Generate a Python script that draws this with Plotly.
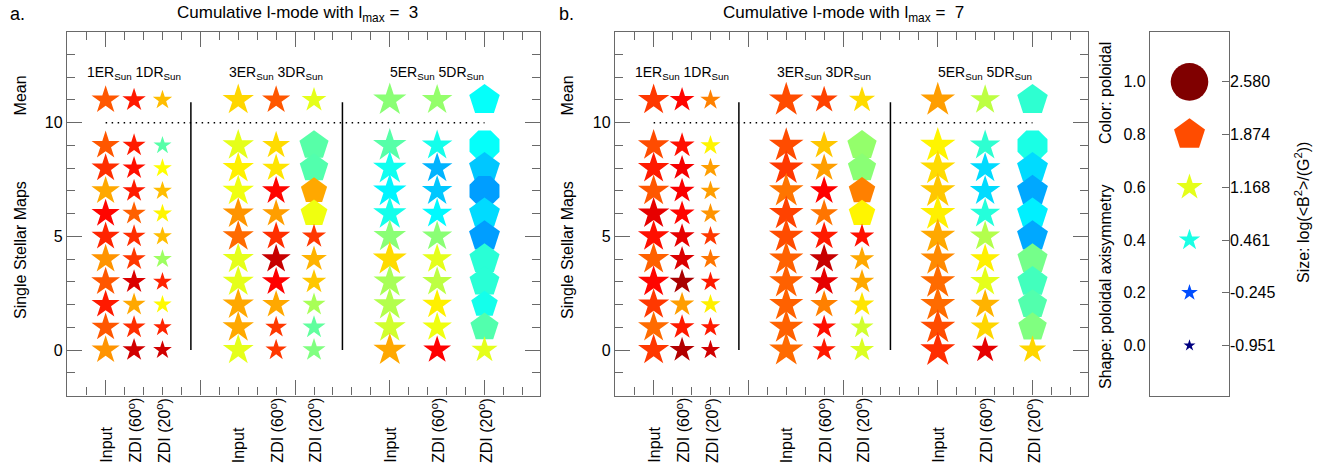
import plotly.graph_objects as go

# ---------------- data ----------------
COL_X = [0, 1.5, 3, 7, 9, 11, 15, 17.5, 20]
COL_LABELS = ["Input", "ZDI (60<sup>o</sup>)", "ZDI (20<sup>o</sup>)"] * 3
GROUP_X = [1.5, 9, 17.5]
GROUP_LABELS = ["1ER<sub>Sun</sub> 1DR<sub>Sun</sub>",
                "3ER<sub>Sun</sub> 3DR<sub>Sun</sub>",
                "5ER<sub>Sun</sub> 5DR<sub>Sun</sub>"]
# row order: Mean (plotted at 11), then single maps 9 ... 0
ROW_Y = [11, 9, 8, 7, 6, 5, 4, 3, 2, 1, 0]

LOG_MIN, LOG_MAX = -0.951, 2.580
LEGEND_FRAC = [0.0, 0.2, 0.4, 0.6, 0.8, 1.0]
LEGEND_FRAC_LABELS = ["0.0", "0.2", "0.4", "0.6", "0.8", "1.0"]
LEGEND_SIZE_LABELS = ["-0.951", "-0.245", "0.461", "1.168", "1.874", "2.580"]

# panel a (lmax = 3): poloidal fraction (colour)
A_POL = [
    [0.79, 0.79, 0.83, 0.71, 0.87, 0.84, 0.73, 0.79, 0.85, 0.79, 0.73],
    [0.85, 0.85, 0.86, 0.85, 0.78, 0.83, 0.82, 0.91, 0.71, 0.83, 0.92],
    [0.69, 0.46, 0.625, 0.69, 0.635, 0.69, 0.53, 0.84, 0.63, 0.84, 0.92],
    [0.665, 0.60, 0.64, 0.61, 0.73, 0.77, 0.60, 0.60, 0.71, 0.71, 0.60],
    [0.79, 0.66, 0.65, 0.87, 0.72, 0.83, 0.93, 0.875, 0.71, 0.82, 0.82],
    [0.60, 0.46, 0.455, 0.71, 0.61, 0.82, 0.70, 0.68, 0.54, 0.47, 0.50],
    [0.51, 0.46, 0.39, 0.365, 0.395, 0.51, 0.66, 0.54, 0.55, 0.58, 0.71],
    [0.52, 0.395, 0.30, 0.32, 0.37, 0.51, 0.60, 0.56, 0.64, 0.61, 0.875],
    [0.38, 0.38, 0.32, 0.28, 0.34, 0.28, 0.415, 0.415, 0.395, 0.455, 0.60],
]
# panel a: poloidal axisymmetry (shape)
A_AXI = [
    [0.35, 0.35, 0.35, 0.40, 0.35, 0.35, 0.45, 0.45, 0.35, 0.35, 0.40],
    [0.20, 0.20, 0.20, 0.20, 0.25, 0.25, 0.25, 0.40, 0.25, 0.20, 0.20],
    [0.25, 0.20, 0.20, 0.30, 0.30, 0.30, 0.25, 0.20, 0.20, 0.15, 0.15],
    [0.45, 0.45, 0.45, 0.50, 0.40, 0.40, 0.45, 0.45, 0.45, 0.45, 0.45],
    [0.40, 0.40, 0.45, 0.60, 0.45, 0.45, 0.60, 0.50, 0.45, 0.30, 0.30],
    [0.55, 0.80, 0.80, 0.82, 0.82, 0.50, 0.45, 0.40, 0.25, 0.25, 0.25],
    [0.50, 0.65, 0.65, 0.65, 0.60, 0.50, 0.40, 0.50, 0.50, 0.50, 0.35],
    [0.50, 0.60, 0.65, 0.60, 0.55, 0.50, 0.45, 0.50, 0.45, 0.50, 0.40],
    [0.80, 0.93, 0.88, 0.90, 0.88, 0.88, 0.85, 0.85, 0.82, 0.80, 0.55],
]
# panel a: log(<B^2>) (size)
A_LOG = [
    [1.46, 1.46, 1.46, 1.50, 1.46, 1.46, 1.60, 1.55, 1.46, 1.46, 1.46],
    [0.75, 0.70, 0.70, 0.70, 0.75, 0.70, 0.75, 0.80, 0.70, 0.70, 0.70],
    [0.15, -0.05, 0.05, 0.07, 0.10, 0.07, 0.05, 0.07, 0.00, 0.00, 0.05],
    [1.93, 1.93, 1.93, 1.93, 1.90, 1.90, 1.90, 1.90, 1.93, 1.93, 1.85],
    [1.46, 1.40, 1.40, 1.46, 1.40, 1.46, 1.60, 1.50, 1.40, 0.50, 0.45],
    [0.95, 1.60, 1.50, 1.16, 1.25, 0.85, 1.10, 0.90, 0.70, 0.70, 0.70],
    [2.20, 2.23, 2.23, 2.23, 2.20, 2.10, 2.30, 2.10, 2.10, 2.00, 2.15],
    [1.80, 1.80, 1.80, 1.80, 1.75, 1.75, 1.70, 1.70, 1.70, 1.65, 1.40],
    [1.80, 1.85, 1.85, 1.85, 1.85, 1.85, 1.75, 1.70, 1.20, 1.45, 1.15],
]

# panel b (lmax = 7)
B_POL = [
    [0.82, 0.80, 0.85, 0.79, 0.90, 0.86, 0.78, 0.87, 0.82, 0.77, 0.82],
    [0.87, 0.86, 0.885, 0.88, 0.87, 0.90, 0.91, 0.96, 0.72, 0.85, 0.95],
    [0.75, 0.635, 0.72, 0.72, 0.73, 0.82, 0.76, 0.85, 0.64, 0.85, 0.92],
    [0.80, 0.80, 0.82, 0.76, 0.81, 0.80, 0.78, 0.78, 0.78, 0.78, 0.77],
    [0.81, 0.68, 0.72, 0.875, 0.76, 0.85, 0.93, 0.90, 0.75, 0.86, 0.85],
    [0.66, 0.52, 0.51, 0.75, 0.635, 0.86, 0.71, 0.71, 0.65, 0.58, 0.59],
    [0.72, 0.635, 0.66, 0.68, 0.64, 0.71, 0.74, 0.77, 0.77, 0.80, 0.83],
    [0.56, 0.42, 0.34, 0.34, 0.41, 0.55, 0.64, 0.60, 0.70, 0.665, 0.90],
    [0.42, 0.40, 0.34, 0.29, 0.36, 0.29, 0.49, 0.44, 0.455, 0.50, 0.665],
]
B_AXI = [
    [0.25, 0.28, 0.25, 0.28, 0.25, 0.25, 0.28, 0.25, 0.25, 0.28, 0.25],
    [0.20, 0.20, 0.20, 0.20, 0.20, 0.20, 0.20, 0.35, 0.20, 0.20, 0.20],
    [0.20, 0.20, 0.20, 0.25, 0.30, 0.20, 0.25, 0.20, 0.20, 0.15, 0.15],
    [0.30, 0.30, 0.35, 0.35, 0.30, 0.30, 0.30, 0.30, 0.30, 0.30, 0.30],
    [0.35, 0.40, 0.40, 0.60, 0.40, 0.45, 0.60, 0.45, 0.45, 0.30, 0.30],
    [0.55, 0.78, 0.80, 0.80, 0.80, 0.45, 0.40, 0.40, 0.30, 0.30, 0.35],
    [0.40, 0.50, 0.50, 0.50, 0.50, 0.45, 0.40, 0.35, 0.35, 0.30, 0.30],
    [0.50, 0.60, 0.60, 0.60, 0.55, 0.50, 0.45, 0.50, 0.45, 0.50, 0.40],
    [0.80, 0.93, 0.88, 0.88, 0.88, 0.88, 0.82, 0.82, 0.80, 0.78, 0.45],
]
B_LOG = [
    [1.93, 1.93, 1.93, 1.93, 1.95, 1.93, 1.93, 1.93, 1.90, 1.90, 1.90],
    [0.95, 1.00, 1.00, 1.00, 1.00, 1.00, 1.00, 1.00, 0.90, 0.95, 1.00],
    [0.30, 0.25, 0.20, 0.22, 0.25, 0.22, 0.22, 0.20, 0.25, 0.15, 0.15],
    [2.40, 2.40, 2.40, 2.40, 2.40, 2.40, 2.35, 2.35, 2.35, 2.35, 2.35],
    [1.30, 1.45, 1.40, 1.45, 1.40, 1.45, 1.60, 1.50, 1.40, 0.80, 0.75],
    [1.17, 1.62, 1.46, 1.20, 1.20, 0.90, 0.90, 0.90, 0.90, 0.70, 0.85],
    [2.40, 2.50, 2.50, 2.50, 2.50, 2.45, 2.40, 2.45, 2.45, 2.45, 2.45],
    [1.70, 1.80, 1.80, 1.80, 1.75, 1.75, 1.70, 1.70, 1.65, 1.60, 1.20],
    [1.80, 1.85, 1.85, 1.85, 1.85, 1.85, 1.75, 1.75, 1.60, 1.50, 1.35],
]

# ---------------- styling helpers ----------------
JET = [[0.0, "rgb(0,0,128)"], [0.125, "rgb(0,0,255)"], [0.375, "rgb(0,255,255)"],
       [0.625, "rgb(255,255,0)"], [0.875, "rgb(255,0,0)"], [1.0, "rgb(128,0,0)"]]
FONT = "Liberation Sans, Arial, Helvetica, sans-serif"
GREY = "rgb(105,105,105)"
W, H = 1332, 473             # page body margin is removed in post_script below


def px_x(sx):
    return sx / W


def px_y(sy):
    return 1 - sy / H


def symbol_of(s):
    if s < 0.7:
        return "star"
    if s < 0.9:
        return "pentagon"
    if s < 0.97:
        return "octagon"
    return "circle"


def size_of(logb, s):
    r = 6.3 + 12.5 * (logb - LOG_MIN) / (LOG_MAX - LOG_MIN)
    return r / 0.7 if symbol_of(s) == "star" else 2 * r


def marker_cfg(colors, symbols, sizes):
    return dict(color=colors, colorscale=JET, cmin=0, cmax=1, symbol=symbols,
                size=sizes, line=dict(width=0), opacity=1)


def panel_trace(pol, axi, logb, xa, ya):
    xs, ys, cs, syms, sizes = [], [], [], [], []
    for ci, cx in enumerate(COL_X):
        for ri, ry in enumerate(ROW_Y):
            xs.append(cx)
            ys.append(ry)
            cs.append(pol[ci][ri])
            syms.append(symbol_of(axi[ci][ri]))
            sizes.append(size_of(logb[ci][ri], axi[ci][ri]))
    return go.Scatter(x=xs, y=ys, mode="markers", xaxis=xa, yaxis=ya, showlegend=False,
                      hoverinfo="skip", marker=marker_cfg(cs, syms, sizes))


fig = go.Figure()
fig.add_trace(panel_trace(A_POL, A_AXI, A_LOG, "x", "y"))
fig.add_trace(panel_trace(B_POL, B_AXI, B_LOG, "x2", "y2"))

# legend panel
fig.add_trace(go.Scatter(
    x=[0.5] * len(LEGEND_FRAC), y=LEGEND_FRAC, mode="markers", xaxis="x3", yaxis="y3",
    showlegend=False, hoverinfo="skip",
    marker=marker_cfg(LEGEND_FRAC, [symbol_of(v) for v in LEGEND_FRAC],
                      [size_of(LOG_MIN + v * (LOG_MAX - LOG_MIN), v) for v in LEGEND_FRAC])))
# dummy trace so the right-hand legend axis is drawn
fig.add_trace(go.Scatter(x=[None], y=[None], xaxis="x3", yaxis="y4", showlegend=False))

PANEL_A_PX = (67, 540)
PANEL_B_PX = (615, 1088)
LEG_PX = (1150, 1229)
TOP_PX, BOT_PX = 31.8, 395.5
ydom = [px_y(BOT_PX), px_y(TOP_PX)]


def xaxis_cfg(px):
    return dict(domain=[px_x(px[0]), px_x(px[1])], range=[-2.04, 22.93], showgrid=False,
                zeroline=False, showline=True, linecolor=GREY, linewidth=1.3, mirror="ticks",
                tick0=0, dtick=5, ticks="inside", ticklen=15, tickwidth=1.3, tickcolor=GREY,
                showticklabels=False,
                minor=dict(dtick=1, tick0=0, ticks="inside", ticklen=8, tickwidth=1.3,
                           tickcolor=GREY, showgrid=False))


def yaxis_cfg():
    return dict(domain=ydom, range=[-2, 14], showgrid=False, zeroline=False, showline=True,
                linecolor=GREY, linewidth=1.3, mirror="ticks", tickvals=[0, 5, 10],
                ticks="inside", ticklen=15, tickwidth=1.3, tickcolor=GREY,
                tickfont=dict(size=16, color="black", family=FONT),
                minor=dict(dtick=1, tick0=0, ticks="inside", ticklen=8, tickwidth=1.3,
                           tickcolor=GREY, showgrid=False))


fig.update_layout(
    width=W, height=H, margin=dict(l=0, r=0, t=0, b=0),
    paper_bgcolor="white", plot_bgcolor="white",
    font=dict(family=FONT, color="black", size=16),
    xaxis=xaxis_cfg(PANEL_A_PX), yaxis=yaxis_cfg(),
    xaxis2=dict(xaxis_cfg(PANEL_B_PX), anchor="y2"), yaxis2=dict(yaxis_cfg(), anchor="x2"),
    xaxis3=dict(domain=[px_x(LEG_PX[0]), px_x(LEG_PX[1])], range=[0, 1], anchor="y3",
                showgrid=False, zeroline=False, showline=True, mirror=True,
                linecolor=GREY, linewidth=1.3, showticklabels=False, ticks=""),
    yaxis3=dict(domain=ydom, range=[-0.19, 1.19], anchor="x3", showgrid=False,
                zeroline=False, showline=True, mirror=True, linecolor=GREY, linewidth=1.3,
                tickvals=LEGEND_FRAC, ticktext=LEGEND_FRAC_LABELS, ticks="",
                tickfont=dict(size=16, color="black", family=FONT)),
    yaxis4=dict(domain=ydom, range=[-0.19, 1.19], anchor="x3", overlaying="y3", side="right",
                showgrid=False, zeroline=False, tickvals=LEGEND_FRAC,
                ticktext=LEGEND_SIZE_LABELS, ticks="inside", ticklen=7, tickwidth=1.3,
                tickcolor=GREY, tickfont=dict(size=16, color="black", family=FONT)),
)

shapes, anns = [], []


def note(**kw):
    base = dict(showarrow=False, xanchor="center", yanchor="middle")
    base.update(kw)
    anns.append(base)


for xa, ya in (("x", "y"), ("x2", "y2")):
    for sx in (4.5, 12.5):
        shapes.append(dict(type="line", xref=xa, yref=ya, x0=sx, x1=sx, y0=0, y1=10.9,
                           line=dict(color="black", width=1.5)))
    shapes.append(dict(type="line", xref=xa, yref=ya, x0=0, x1=20, y0=10, y1=10,
                       line=dict(color="black", width=1.5, dash="1.5px,4.5px")))
    for gx, gl in zip(GROUP_X, GROUP_LABELS):
        note(x=gx, y=12.2, xref=xa, yref=ya, text=gl, font=dict(size=14))
    for cx, cl in zip(COL_X, COL_LABELS):
        note(x=cx, y=px_y(465), xref=xa, yref="paper", text=cl, textangle=-90,
             yanchor="bottom", font=dict(size=16))

# axis titles for the panels
for sx, ya in ((20, "y"), (567, "y2")):
    note(x=px_x(sx), y=11.2, xref="paper", yref=ya, text="Mean", textangle=-90)
    note(x=px_x(sx), y=4.4, xref="paper", yref=ya, text="Single Stellar Maps",
         textangle=-90)

# panel labels and titles
note(x=px_x(8), y=px_y(14), xref="paper", yref="paper", text="a.", xanchor="left",
     font=dict(size=18))
note(x=px_x(557), y=px_y(14), xref="paper", yref="paper", text="b.", xanchor="left",
     font=dict(size=18))
note(x=px_x(297), y=px_y(14), xref="paper", yref="paper",
     text="Cumulative l-mode with l<sub>max</sub> =&nbsp; 3", font=dict(size=17))
note(x=px_x(843), y=px_y(14), xref="paper", yref="paper",
     text="Cumulative l-mode with l<sub>max</sub> =&nbsp; 7", font=dict(size=17))

# legend titles
note(x=px_x(1105), y=px_y(93), xref="paper", yref="paper", text="Color: poloidal",
     textangle=-90)
note(x=px_x(1105), y=px_y(287), xref="paper", yref="paper",
     text="Shape: poloidal axisymmetry", textangle=-90)
note(x=px_x(1302), y=px_y(213), xref="paper", yref="paper",
     text="Size: log(&lt;B<sup>2</sup>&gt;/(G<sup>2</sup>))", textangle=-90)

fig.update_layout(shapes=shapes, annotations=anns)
fig.write_html("out.html", config={"displayModeBar": False},
               post_script="document.body.style.margin='0';"
                           "document.body.style.overflow='hidden';")
